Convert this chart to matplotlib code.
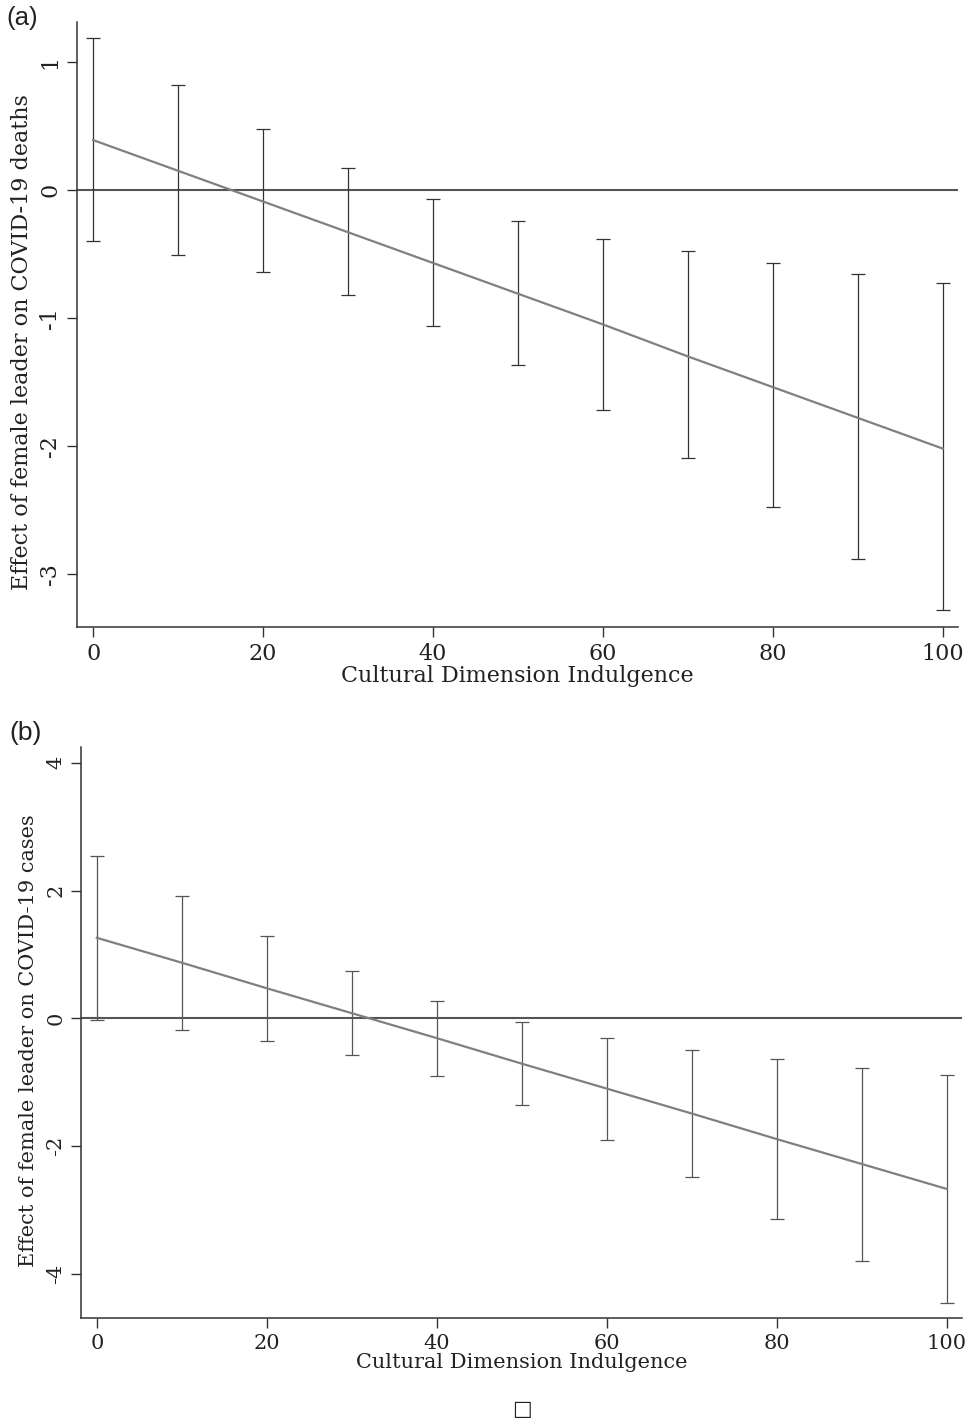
import matplotlib
matplotlib.use("Agg")
import matplotlib.pyplot as plt
import numpy as np

# ---- data ----
x_vals = [0, 10, 20, 30, 40, 50, 60, 70, 80, 90, 100]

deaths_est = [0.39, 0.15, -0.09, -0.33, -0.57, -0.81, -1.05, -1.30, -1.54, -1.78, -2.02]
deaths_hi = [1.19, 0.82, 0.48, 0.17, -0.07, -0.24, -0.38, -0.48, -0.57, -0.66, -0.73]
deaths_lo = [-0.40, -0.51, -0.64, -0.82, -1.06, -1.37, -1.72, -2.09, -2.48, -2.88, -3.28]

cases_est = [1.26, 0.87, 0.47, 0.08, -0.31, -0.71, -1.10, -1.49, -1.89, -2.28, -2.67]
cases_hi = [2.54, 1.91, 1.29, 0.74, 0.27, -0.06, -0.31, -0.49, -0.63, -0.77, -0.89]
cases_lo = [-0.03, -0.19, -0.36, -0.58, -0.91, -1.35, -1.90, -2.49, -3.14, -3.80, -4.45]

x_ticks = [0, 20, 40, 60, 80, 100]
deaths_yticks = [1, 0, -1, -2, -3]
cases_yticks = [4, 2, 0, -2, -4]

x_label = "Cultural Dimension Indulgence"
deaths_ylabel = "Effect of female leader on COVID-19 deaths"
cases_ylabel = "Effect of female leader on COVID-19 cases"

W, H = 971, 1425
fig = plt.figure(figsize=(W / 100, H / 100), dpi=100)

serif = "DejaVu Serif"


def px_axes(l, t, r, b):
    return fig.add_axes([l / W, 1 - b / H, (r - l) / W, (b - t) / H])


def panel(ax, est, lo, hi, yticks, ylabel, ylim, ebcolor, fs, ylab_y, lpad):
    xs = np.array(x_vals, dtype=float)
    est = np.array(est)
    lo = np.array(lo)
    hi = np.array(hi)
    ax.axhline(0, color="#555555", lw=1.5, zorder=1)
    ax.errorbar(xs, est, yerr=[est - lo, hi - est], fmt="none",
                ecolor=ebcolor, elinewidth=0.9, capsize=4.7, capthick=0.9, zorder=2)
    ax.plot(xs, est, color="#808080", lw=1.6, zorder=3)
    ax.set_xlim(-1.9, 101.8)
    ax.set_ylim(*ylim)
    ax.set_xticks(x_ticks)
    ax.set_yticks(yticks)
    ax.set_xticklabels([str(v) for v in x_ticks], fontfamily=serif, fontsize=fs)
    ax.set_yticklabels([str(v) for v in yticks], fontfamily=serif, fontsize=fs,
                       rotation=90, va="center")
    for s in ["top", "right"]:
        ax.spines[s].set_visible(False)
    for s in ["left", "bottom"]:
        ax.spines[s].set_linewidth(1.1)
        ax.spines[s].set_color("#333333")
    ax.tick_params(direction="out", length=7.2, width=1.0, color="#333333",
                   labelcolor="#222222", pad=4)
    ax.set_xlabel(x_label, fontfamily=serif, fontsize=fs, color="#222222", labelpad=0)
    ax.set_ylabel(ylabel, fontfamily=serif, fontsize=fs, color="#222222", labelpad=lpad)
    ax.yaxis.label.set_y(ylab_y)


ax1 = px_axes(77, 22, 958, 627)
panel(ax1, deaths_est, deaths_lo, deaths_hi, deaths_yticks, deaths_ylabel,
      (-3.414, 1.3125), "#333333", 16, 0.471, 5)

ax2 = px_axes(80.7, 747, 962, 1318)
panel(ax2, cases_est, cases_lo, cases_hi, cases_yticks, cases_ylabel,
      (-4.69, 4.246), "#555555", 15, 0.485, 6)

fig.text(6 / W, 1 - 18 / H, "(a)", fontfamily="Liberation Sans", fontsize=18.5,
         va="center", ha="left", color="#222222")
fig.text(9 / W, 1 - 733 / H, "(b)", fontfamily="Liberation Sans", fontsize=19,
         va="center", ha="left", color="#222222")
fig.text(521.5 / W, 1 - 1409 / H, "\u25a1", fontfamily="DejaVu Sans", fontsize=15,
         va="center", ha="center", color="#222222")

fig.savefig("out.png", dpi=100)
